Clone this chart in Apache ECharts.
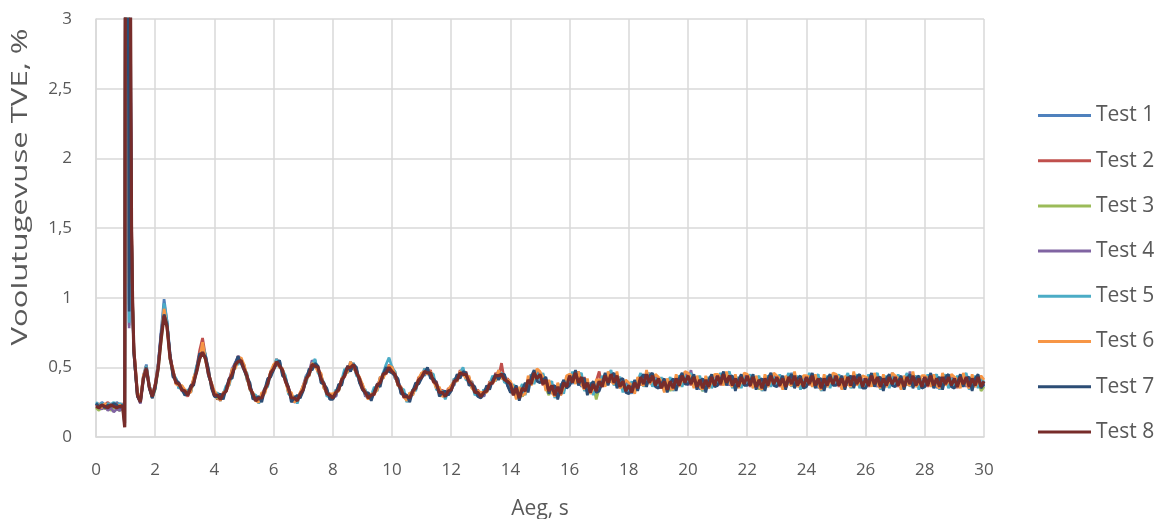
<!DOCTYPE html>
<html>
<head>
<meta charset="utf-8">
<script src="https://cdn.jsdelivr.net/npm/echarts@6/dist/echarts.min.js"></script>
<style>
html,body{margin:0;padding:0;background:#fff;}
#chart{width:1157px;height:519px;}
</style>
</head>
<body>
<div id="chart"></div>
<script>
// ---- data ----
const seriesNames = ['Test 1','Test 2','Test 3','Test 4','Test 5','Test 6','Test 7','Test 8'];
const yTickLabels = ['0','0,5','1','1,5','2','2,5','3'];
const xTickLabels = ['0','2','4','6','8','10','12','14','16','18','20','22','24','26','28','30'];

// sample times: dense around the start-up spike, then every 0.1 s
const timeHead = [0,0.1,0.2,0.3,0.4,0.5,0.6,0.7,0.8,0.9,0.94,0.97,1.0,1.04,1.08,1.12,1.16,1.2,1.24,1.28,1.34,1.4,1.5,1.6,1.7,1.8,1.9];
const bodyStart = 2.0, bodyStep = 0.1, bodyCount = 281;

const test1 = [0.24,0.22,0.25,0.23,0.21,0.24,0.22,0.25,0.23,0.22,0.21,0.08,4.8,4.6,3.8,0.80,3.2,1.45,0.90,0.60,0.44,0.30,0.27,0.44,0.52,0.37,0.30,
0.38,0.52,0.76,0.99,0.83,0.60,0.44,0.42,0.35,0.37,
0.30,0.33,0.32,0.42,0.46,0.60,0.64,0.59,0.44,0.39,
0.29,0.31,0.26,0.32,0.33,0.42,0.44,0.53,0.57,0.53,
0.52,0.41,0.38,0.28,0.29,0.25,0.31,0.32,0.41,0.43,
0.52,0.51,0.55,0.45,0.43,0.32,0.31,0.25,0.29,0.28,
0.37,0.39,0.48,0.49,0.55,0.47,0.45,0.35,0.34,0.27,
0.31,0.29,0.37,0.38,0.47,0.47,0.54,0.49,0.49,0.39,
0.38,0.29,0.31,0.27,0.34,0.34,0.43,0.42,0.49,0.47,
0.51,0.42,0.41,0.32,0.32,0.26,0.31,0.30,0.38,0.38,
0.46,0.44,0.49,0.43,0.43,0.35,0.35,0.29,0.32,0.30,
0.37,0.37,0.44,0.43,0.48,0.42,0.43,0.35,0.35,0.29,
0.32,0.29,0.36,0.35,0.42,0.41,0.48,0.42,0.44,0.37,
0.33,0.37,0.29,0.34,0.36,0.31,0.41,0.44,0.39,0.48,
0.40,0.45,0.35,0.39,0.31,0.36,0.29,0.37,0.40,0.35,
0.45,0.38,0.47,0.44,0.36,0.41,0.33,0.39,0.31,0.40,
0.34,0.43,0.37,0.46,0.40,0.45,0.37,0.43,0.34,0.39,
0.38,0.31,0.40,0.34,0.44,0.37,0.46,0.40,0.37,0.44,
0.35,0.42,0.33,0.40,0.35,0.42,0.36,0.44,0.38,0.46,
0.39,0.45,0.36,0.42,0.34,0.41,0.37,0.43,0.36,0.44,
0.38,0.45,0.40,0.46,0.37,0.43,0.35,0.41,0.37,0.45,
0.38,0.44,0.36,0.42,0.35,0.40,0.36,0.44,0.39,0.45,
0.37,0.44,0.35,0.43,0.38,0.46,0.39,0.43,0.35,0.41,
0.37,0.45,0.39,0.43,0.35,0.40,0.36,0.43,0.37,0.45,
0.38,0.44,0.35,0.41,0.37,0.44,0.38,0.45,0.37,0.42,
0.35,0.44,0.39,0.45,0.36,0.42,0.35,0.43,0.37,0.46,
0.37,0.44,0.35,0.42,0.37,0.45,0.39,0.44,0.35,0.41,
0.37,0.43,0.39,0.44,0.35,0.41,0.37,0.45,0.36,0.43,
0.36,0.42,0.37,0.45,0.37,0.42,0.35,0.43,0.37,0.41,
0.36];

const test2 = [0.22,0.24,0.21,0.23,0.25,0.22,0.21,0.24,0.22,0.24,0.22,0.10,4.6,4.8,4.2,1.2,2.6,1.55,0.98,0.64,0.47,0.31,0.25,0.43,0.51,0.35,0.29,
0.35,0.51,0.73,0.93,0.78,0.59,0.47,0.38,0.39,0.33,
0.33,0.29,0.36,0.41,0.50,0.62,0.71,0.58,0.48,0.36,
0.32,0.27,0.29,0.29,0.36,0.39,0.48,0.50,0.58,0.54,
0.51,0.42,0.37,0.29,0.28,0.26,0.30,0.35,0.38,0.47,
0.49,0.56,0.51,0.49,0.40,0.36,0.27,0.29,0.26,0.32,
0.34,0.43,0.44,0.53,0.50,0.51,0.41,0.39,0.30,0.31,
0.27,0.33,0.34,0.42,0.43,0.51,0.49,0.53,0.45,0.43,
0.34,0.33,0.27,0.31,0.30,0.38,0.39,0.46,0.45,0.52,
0.46,0.47,0.37,0.36,0.28,0.30,0.27,0.34,0.34,0.43,
0.42,0.49,0.45,0.48,0.39,0.40,0.31,0.34,0.28,0.35,
0.33,0.42,0.40,0.48,0.44,0.47,0.39,0.40,0.31,0.34,
0.28,0.34,0.32,0.40,0.38,0.46,0.43,0.53,0.40,0.42,
0.39,0.30,0.36,0.33,0.29,0.38,0.35,0.45,0.40,0.47,
0.46,0.37,0.42,0.33,0.38,0.31,0.35,0.30,0.40,0.36,
0.38,0.46,0.40,0.47,0.37,0.43,0.33,0.38,0.32,0.40,
0.47,0.36,0.44,0.38,0.46,0.39,0.45,0.35,0.41,0.33,
0.36,0.38,0.33,0.42,0.37,0.45,0.39,0.46,0.38,0.43,
0.42,0.35,0.41,0.34,0.39,0.34,0.43,0.37,0.45,0.39,
0.46,0.37,0.44,0.35,0.41,0.36,0.42,0.35,0.44,0.38,
0.45,0.37,0.44,0.38,0.46,0.36,0.43,0.37,0.42,0.39,
0.45,0.36,0.43,0.37,0.42,0.34,0.43,0.36,0.45,0.38,
0.44,0.36,0.42,0.35,0.44,0.37,0.45,0.36,0.43,0.37,
0.44,0.37,0.45,0.36,0.43,0.35,0.43,0.36,0.44,0.37,
0.45,0.36,0.43,0.35,0.44,0.36,0.45,0.37,0.44,0.35,
0.43,0.36,0.45,0.37,0.44,0.35,0.43,0.36,0.44,0.37,
0.44,0.36,0.43,0.35,0.44,0.37,0.45,0.36,0.43,0.35,
0.44,0.36,0.45,0.36,0.43,0.35,0.44,0.37,0.44,0.36,
0.43,0.35,0.44,0.37,0.44,0.35,0.43,0.36,0.44,0.37,
0.38];

const test3 = [0.21,0.19,0.22,0.20,0.22,0.19,0.21,0.20,0.19,0.21,0.20,0.10,4.4,4.7,3.9,0.95,2.2,1.4,0.92,0.61,0.45,0.29,0.26,0.41,0.49,0.36,0.28,
0.34,0.48,0.69,0.88,0.81,0.56,0.45,0.41,0.36,0.36,
0.31,0.32,0.33,0.39,0.49,0.57,0.62,0.55,0.47,0.36,
0.30,0.28,0.27,0.29,0.35,0.39,0.47,0.50,0.54,0.56,
0.49,0.42,0.35,0.29,0.26,0.26,0.28,0.32,0.40,0.44,
0.51,0.52,0.53,0.46,0.42,0.33,0.28,0.26,0.28,0.29,
0.36,0.40,0.47,0.50,0.53,0.48,0.44,0.36,0.33,0.28,
0.30,0.30,0.36,0.39,0.46,0.48,0.52,0.50,0.48,0.40,
0.37,0.30,0.30,0.28,0.33,0.35,0.41,0.43,0.48,0.48,
0.49,0.43,0.40,0.33,0.31,0.27,0.30,0.31,0.37,0.39,
0.45,0.45,0.48,0.44,0.42,0.36,0.34,0.30,0.31,0.31,
0.36,0.38,0.43,0.44,0.47,0.43,0.42,0.36,0.34,0.30,
0.31,0.30,0.35,0.36,0.41,0.42,0.46,0.43,0.43,0.38,
0.34,0.36,0.30,0.35,0.29,0.37,0.36,0.43,0.39,0.47,
0.41,0.44,0.35,0.30,0.37,0.30,0.36,0.31,0.38,0.41,
0.43,0.39,0.46,0.40,0.43,0.36,0.38,0.31,0.37,0.27,
0.35,0.41,0.38,0.45,0.40,0.44,0.39,0.42,0.35,0.38,
0.33,0.37,0.34,0.41,0.38,0.43,0.40,0.45,0.39,0.43,
0.36,0.40,0.35,0.39,0.33,0.40,0.37,0.42,0.39,0.44,
0.40,0.43,0.37,0.41,0.36,0.33,0.40,0.38,0.42,0.37,
0.43,0.39,0.44,0.41,0.38,0.42,0.37,0.41,0.36,0.43,
0.38,0.42,0.37,0.40,0.34,0.40,0.37,0.42,0.38,0.43,
0.41,0.37,0.42,0.36,0.42,0.39,0.43,0.37,0.41,0.35,
0.42,0.38,0.43,0.36,0.41,0.34,0.40,0.37,0.43,0.39,
0.44,0.37,0.41,0.35,0.42,0.38,0.44,0.39,0.42,0.36,
0.40,0.37,0.43,0.39,0.42,0.35,0.41,0.38,0.42,0.39,
0.42,0.37,0.41,0.35,0.42,0.39,0.44,0.37,0.41,0.36,
0.42,0.38,0.43,0.37,0.40,0.36,0.42,0.39,0.42,0.37,
0.41,0.36,0.42,0.39,0.42,0.36,0.40,0.38,0.42,0.33,
0.36];

const test4 = [0.23,0.21,0.20,0.22,0.19,0.21,0.18,0.20,0.19,0.21,0.19,0.09,4.7,4.4,1.8,0.78,2.9,1.5,0.93,0.63,0.46,0.30,0.24,0.42,0.50,0.36,0.28,
0.37,0.53,0.74,0.91,0.82,0.57,0.48,0.39,0.38,0.34,
0.32,0.30,0.35,0.41,0.47,0.59,0.64,0.58,0.45,0.38,
0.30,0.30,0.27,0.31,0.33,0.41,0.49,0.53,0.58,0.56,
0.50,0.44,0.36,0.31,0.26,0.27,0.27,0.34,0.38,0.46,
0.50,0.54,0.51,0.48,0.40,0.35,0.28,0.25,0.26,0.31,
0.37,0.44,0.47,0.55,0.53,0.48,0.45,0.36,0.33,0.28,
0.30,0.29,0.37,0.39,0.47,0.48,0.52,0.49,0.48,0.40,
0.37,0.30,0.28,0.27,0.33,0.35,0.42,0.43,0.48,0.48,
0.49,0.43,0.41,0.33,0.31,0.26,0.30,0.31,0.37,0.39,
0.45,0.45,0.49,0.44,0.42,0.36,0.35,0.30,0.31,0.31,
0.36,0.38,0.44,0.44,0.47,0.43,0.42,0.36,0.34,0.30,
0.32,0.29,0.36,0.36,0.42,0.42,0.47,0.43,0.44,0.38,
0.33,0.37,0.29,0.35,0.30,0.38,0.35,0.44,0.40,0.47,
0.40,0.44,0.35,0.40,0.31,0.36,0.30,0.38,0.33,0.42,
0.38,0.45,0.40,0.45,0.37,0.41,0.33,0.38,0.32,0.39,
0.34,0.42,0.38,0.45,0.39,0.45,0.38,0.42,0.34,0.39,
0.32,0.38,0.33,0.41,0.37,0.44,0.39,0.45,0.38,0.43,
0.36,0.41,0.34,0.40,0.34,0.41,0.36,0.43,0.38,0.45,
0.37,0.48,0.36,0.42,0.35,0.41,0.36,0.42,0.37,0.44,
0.38,0.44,0.39,0.45,0.37,0.43,0.36,0.42,0.38,0.44,
0.37,0.43,0.36,0.42,0.35,0.41,0.37,0.43,0.38,0.44,
0.37,0.43,0.36,0.42,0.38,0.44,0.37,0.42,0.36,0.42,
0.38,0.44,0.37,0.43,0.36,0.41,0.37,0.43,0.38,0.43,
0.37,0.43,0.36,0.42,0.37,0.43,0.38,0.44,0.36,0.42,
0.37,0.42,0.38,0.44,0.36,0.42,0.37,0.42,0.38,0.43,
0.37,0.42,0.36,0.43,0.38,0.47,0.37,0.43,0.36,0.42,
0.37,0.43,0.37,0.44,0.36,0.42,0.38,0.43,0.37,0.43,
0.36,0.42,0.38,0.43,0.36,0.42,0.37,0.42,0.36,0.41,
0.38];

const test5 = [0.25,0.23,0.24,0.22,0.24,0.23,0.25,0.22,0.24,0.23,0.21,0.08,4.5,4.6,3.7,0.82,2.4,1.48,0.96,0.62,0.45,0.31,0.26,0.43,0.51,0.37,0.30,
0.35,0.52,0.71,0.96,0.83,0.56,0.46,0.42,0.35,0.36,
0.31,0.34,0.32,0.41,0.51,0.55,0.66,0.59,0.44,0.38,
0.30,0.32,0.26,0.31,0.37,0.37,0.46,0.53,0.52,0.56,
0.49,0.46,0.34,0.31,0.30,0.24,0.29,0.35,0.36,0.46,
0.49,0.56,0.50,0.48,0.44,0.31,0.29,0.29,0.24,0.31,
0.34,0.44,0.44,0.52,0.56,0.46,0.43,0.39,0.29,0.30,
0.28,0.34,0.33,0.41,0.49,0.46,0.51,0.53,0.44,0.42,
0.35,0.34,0.27,0.30,0.36,0.33,0.40,0.46,0.52,0.57,
0.50,0.47,0.37,0.35,0.34,0.25,0.29,0.34,0.33,0.41,
0.43,0.49,0.45,0.46,0.45,0.34,0.33,0.33,0.27,0.33,
0.34,0.42,0.40,0.46,0.50,0.41,0.41,0.39,0.30,0.32,
0.29,0.34,0.32,0.38,0.44,0.40,0.45,0.46,0.39,0.40,
0.34,0.38,0.28,0.33,0.38,0.30,0.38,0.45,0.38,0.46,
0.41,0.46,0.34,0.38,0.40,0.28,0.33,0.38,0.31,0.41,
0.39,0.47,0.39,0.44,0.46,0.33,0.36,0.39,0.30,0.38,
0.35,0.44,0.37,0.44,0.48,0.37,0.41,0.43,0.32,0.38,
0.33,0.40,0.32,0.40,0.46,0.36,0.42,0.46,0.36,0.42,
0.37,0.43,0.33,0.39,0.43,0.33,0.39,0.44,0.36,0.44,
0.40,0.46,0.36,0.41,0.44,0.33,0.38,0.43,0.35,0.42,
0.39,0.46,0.38,0.44,0.47,0.35,0.39,0.43,0.35,0.43,
0.39,0.45,0.36,0.41,0.44,0.33,0.39,0.44,0.36,0.43,
0.38,0.45,0.35,0.41,0.46,0.36,0.41,0.44,0.34,0.41,
0.38,0.46,0.37,0.42,0.45,0.33,0.39,0.44,0.35,0.43,
0.39,0.45,0.35,0.41,0.46,0.35,0.41,0.45,0.35,0.41,
0.37,0.45,0.37,0.43,0.46,0.34,0.39,0.44,0.35,0.43,
0.38,0.45,0.35,0.41,0.46,0.36,0.41,0.44,0.34,0.41,
0.38,0.45,0.37,0.42,0.45,0.34,0.40,0.45,0.35,0.42,
0.37,0.44,0.36,0.43,0.46,0.34,0.39,0.44,0.35,0.43,
0.39];

const test6 = [0.22,0.23,0.21,0.24,0.22,0.23,0.22,0.21,0.23,0.22,0.20,0.09,4.6,4.5,4.0,1.1,2.1,1.52,0.94,0.63,0.48,0.32,0.27,0.44,0.50,0.37,0.29,
0.38,0.51,0.70,0.92,0.79,0.56,0.49,0.38,0.37,0.37,
0.34,0.32,0.32,0.43,0.47,0.56,0.68,0.55,0.46,0.39,
0.33,0.30,0.26,0.32,0.33,0.38,0.49,0.49,0.55,0.57,
0.52,0.44,0.34,0.32,0.26,0.25,0.32,0.31,0.39,0.47,
0.52,0.54,0.50,0.49,0.40,0.32,0.32,0.25,0.27,0.32,
0.37,0.42,0.44,0.53,0.51,0.47,0.46,0.35,0.32,0.31,
0.31,0.32,0.33,0.42,0.44,0.47,0.54,0.49,0.47,0.43,
0.38,0.32,0.27,0.31,0.31,0.34,0.43,0.42,0.47,0.51,
0.50,0.45,0.37,0.36,0.29,0.26,0.32,0.30,0.36,0.42,
0.46,0.47,0.45,0.47,0.40,0.35,0.36,0.29,0.30,0.34,
0.37,0.40,0.40,0.47,0.45,0.42,0.44,0.35,0.33,0.33,
0.32,0.32,0.32,0.39,0.39,0.41,0.48,0.42,0.42,0.41,
0.40,0.35,0.27,0.36,0.30,0.31,0.44,0.37,0.43,0.49,
0.47,0.43,0.33,0.41,0.32,0.29,0.39,0.30,0.36,0.44,
0.45,0.44,0.38,0.47,0.38,0.34,0.42,0.31,0.35,0.41,
0.41,0.41,0.36,0.47,0.40,0.38,0.47,0.35,0.37,0.41,
0.39,0.37,0.31,0.43,0.38,0.37,0.48,0.38,0.41,0.45,
0.43,0.40,0.32,0.42,0.35,0.34,0.45,0.36,0.41,0.47,
0.46,0.43,0.35,0.44,0.36,0.34,0.44,0.35,0.40,0.45,
0.45,0.43,0.37,0.47,0.39,0.36,0.45,0.35,0.40,0.46,
0.45,0.42,0.35,0.44,0.36,0.34,0.45,0.36,0.41,0.46,
0.44,0.42,0.34,0.44,0.38,0.37,0.47,0.36,0.39,0.44,
0.44,0.43,0.36,0.45,0.37,0.34,0.45,0.36,0.40,0.46,
0.45,0.42,0.34,0.44,0.38,0.36,0.47,0.37,0.40,0.44,
0.43,0.42,0.36,0.46,0.38,0.35,0.45,0.36,0.40,0.46,
0.44,0.42,0.34,0.44,0.38,0.37,0.47,0.36,0.39,0.44,
0.44,0.42,0.36,0.45,0.37,0.35,0.46,0.37,0.40,0.45,
0.43,0.41,0.35,0.46,0.38,0.35,0.45,0.36,0.40,0.44,
0.41];

const test7 = [0.24,0.22,0.23,0.21,0.23,0.22,0.24,0.23,0.21,0.23,0.21,0.10,4.7,4.7,3.5,0.9,2.8,1.46,0.91,0.60,0.44,0.29,0.25,0.41,0.50,0.35,0.28,
0.35,0.50,0.74,0.88,0.81,0.60,0.43,0.41,0.39,0.34,
0.30,0.31,0.37,0.37,0.49,0.60,0.59,0.58,0.49,0.35,
0.29,0.29,0.31,0.27,0.35,0.42,0.42,0.52,0.58,0.53,
0.48,0.43,0.39,0.27,0.28,0.29,0.25,0.34,0.42,0.43,
0.48,0.53,0.55,0.44,0.42,0.36,0.25,0.28,0.30,0.28,
0.33,0.41,0.49,0.48,0.53,0.51,0.39,0.38,0.35,0.27,
0.27,0.31,0.38,0.37,0.46,0.51,0.47,0.52,0.50,0.39,
0.34,0.31,0.32,0.26,0.33,0.38,0.36,0.45,0.50,0.47,
0.46,0.44,0.42,0.31,0.31,0.30,0.25,0.33,0.39,0.38,
0.42,0.46,0.50,0.42,0.42,0.39,0.29,0.32,0.33,0.30,
0.33,0.39,0.45,0.42,0.47,0.46,0.37,0.38,0.36,0.29,
0.28,0.31,0.37,0.34,0.41,0.45,0.41,0.45,0.45,0.37,
0.32,0.33,0.37,0.26,0.34,0.39,0.32,0.43,0.48,0.40,
0.39,0.41,0.43,0.31,0.36,0.37,0.27,0.36,0.41,0.35,
0.37,0.42,0.48,0.37,0.42,0.42,0.30,0.37,0.40,0.32,
0.33,0.39,0.46,0.37,0.44,0.46,0.35,0.41,0.42,0.32,
0.31,0.35,0.41,0.33,0.42,0.45,0.36,0.44,0.46,0.36,
0.35,0.38,0.42,0.32,0.39,0.42,0.33,0.42,0.46,0.38,
0.38,0.41,0.45,0.34,0.40,0.42,0.32,0.41,0.45,0.36,
0.37,0.41,0.47,0.37,0.43,0.44,0.33,0.41,0.45,0.37,
0.37,0.40,0.45,0.34,0.40,0.42,0.33,0.42,0.46,0.37,
0.36,0.40,0.44,0.34,0.42,0.45,0.35,0.42,0.44,0.35,
0.36,0.41,0.46,0.35,0.41,0.42,0.33,0.42,0.45,0.37,
0.37,0.40,0.44,0.34,0.42,0.44,0.35,0.43,0.45,0.35,
0.35,0.40,0.46,0.36,0.42,0.43,0.33,0.42,0.45,0.37,
0.36,0.40,0.44,0.34,0.42,0.45,0.35,0.42,0.44,0.35,
0.36,0.40,0.46,0.35,0.41,0.43,0.34,0.43,0.45,0.36,
0.35,0.39,0.45,0.36,0.42,0.43,0.33,0.42,0.45,0.35,
0.38];

const test8 = [0.22,0.21,0.23,0.22,0.21,0.23,0.22,0.21,0.22,0.22,0.21,0.07,4.6,4.6,4.0,3.6,3.4,1.52,0.92,0.62,0.46,0.30,0.25,0.42,0.49,0.36,0.29,
0.37,0.49,0.70,0.87,0.79,0.57,0.47,0.39,0.38,0.34,
0.33,0.30,0.35,0.39,0.47,0.56,0.61,0.56,0.45,0.38,
0.30,0.30,0.27,0.31,0.33,0.41,0.45,0.52,0.54,0.55,
0.49,0.44,0.35,0.31,0.26,0.28,0.28,0.34,0.38,0.46,
0.49,0.54,0.51,0.48,0.40,0.35,0.28,0.28,0.26,0.31,
0.34,0.42,0.45,0.52,0.51,0.50,0.42,0.38,0.31,0.30,
0.28,0.32,0.34,0.41,0.44,0.50,0.50,0.52,0.46,0.42,
0.35,0.32,0.28,0.30,0.31,0.37,0.39,0.45,0.46,0.50,
0.47,0.45,0.38,0.35,0.29,0.29,0.28,0.33,0.35,0.41,
0.43,0.47,0.46,0.46,0.40,0.38,0.32,0.32,0.29,0.33,
0.34,0.40,0.41,0.46,0.45,0.45,0.40,0.38,0.32,0.32,
0.29,0.32,0.33,0.38,0.39,0.44,0.44,0.45,0.41,0.40,
0.38,0.30,0.35,0.28,0.35,0.33,0.41,0.38,0.46,0.42,
0.45,0.38,0.41,0.33,0.37,0.30,0.36,0.31,0.39,0.36,
0.44,0.39,0.46,0.39,0.43,0.35,0.39,0.32,0.38,0.33,
0.40,0.36,0.44,0.39,0.45,0.39,0.44,0.36,0.40,0.33,
0.37,0.32,0.39,0.35,0.43,0.38,0.45,0.39,0.44,0.37,
0.42,0.35,0.40,0.34,0.40,0.35,0.42,0.37,0.44,0.39,
0.44,0.38,0.43,0.36,0.41,0.35,0.41,0.36,0.43,0.37,
0.44,0.38,0.45,0.39,0.44,0.37,0.42,0.36,0.43,0.38,
0.44,0.37,0.43,0.36,0.41,0.35,0.42,0.37,0.44,0.38,
0.43,0.37,0.42,0.36,0.43,0.38,0.44,0.37,0.42,0.36,
0.43,0.38,0.44,0.37,0.42,0.35,0.42,0.37,0.43,0.38,
0.44,0.37,0.42,0.36,0.43,0.37,0.44,0.38,0.43,0.36,
0.42,0.37,0.44,0.38,0.43,0.36,0.42,0.37,0.43,0.38,
0.43,0.37,0.42,0.36,0.43,0.38,0.44,0.37,0.42,0.36,
0.43,0.37,0.44,0.37,0.42,0.36,0.43,0.38,0.43,0.37,
0.42,0.36,0.43,0.38,0.43,0.36,0.42,0.37,0.43,0.36,
0.40];

const seriesValues = [test1,test2,test3,test4,test5,test6,test7,test8];
const seriesColors = ['#4F81BD','#C0504D','#9BBB59','#8064A2','#4BACC6','#F79646','#2C4D75','#772C2A'];

// ---- build ----
const times = timeHead.concat(Array.from({length: bodyCount}, (_, i) => +(bodyStart + i * bodyStep).toFixed(1)));
const FONT = "'Open Sans', 'Liberation Sans', sans-serif";
const TXT = '#595959';
const GRIDC = '#d9d9d9';

const chart = echarts.init(document.getElementById('chart'), null, {renderer: 'canvas'});
chart.setOption({
  animation: false,
  backgroundColor: '#fff',
  color: seriesColors,
  grid: {left: 96, right: 173, top: 19, bottom: 82, containLabel: false, outerBoundsMode: 'none'},
  legend: {
    orient: 'vertical',
    left: 1033, top: 100,
    icon: 'rect',
    itemWidth: 53, itemHeight: 3, itemGap: 24.2,
    data: seriesNames,
    textStyle: {fontFamily: FONT, fontSize: 21, color: TXT, lineHeight: 20}
  },
  xAxis: {
    type: 'value', min: 0, max: 30, interval: 2,
    axisLine: {show: true, lineStyle: {color: GRIDC, width: 1.5}},
    axisTick: {show: false},
    splitLine: {show: true, lineStyle: {color: GRIDC, width: 1.5}},
    axisLabel: {
      margin: 25, color: TXT, fontFamily: FONT, fontSize: 17,
      formatter: (v) => xTickLabels[Math.round(v / 2)]
    },
    name: 'Aeg, s', nameLocation: 'middle', nameGap: 62,
    nameTextStyle: {fontFamily: FONT, fontSize: 21, color: TXT}
  },
  yAxis: {
    type: 'value', min: 0, max: 3, interval: 0.5,
    axisLine: {show: true, lineStyle: {color: GRIDC, width: 1.5}},
    axisTick: {show: false},
    splitLine: {show: true, lineStyle: {color: GRIDC, width: 1.5}},
    axisLabel: {
      margin: 24, color: TXT, fontFamily: FONT, fontSize: 17,
      padding: [6, 0, 0, 0],
      formatter: (v) => yTickLabels[Math.round(v / 0.5)]
    }
  },
  graphic: [{
    type: 'text',
    x: 21, y: 187,
    rotation: Math.PI / 2,
    scaleX: 1.48,
    style: {
      text: 'Voolutugevuse TVE, %',
      fill: TXT,
      font: "21px 'Open Sans', sans-serif",
      align: 'center',
      verticalAlign: 'middle'
    }
  }],
  series: seriesNames.map((name, k) => ({
    name: name,
    type: 'line',
    data: seriesValues[k].map((v, i) => [times[i], v]),
    symbol: 'none',
    showSymbol: false,
    clip: true,
    lineStyle: {width: k === 7 ? 3.2 : 2.7, color: seriesColors[k]},
    itemStyle: {color: seriesColors[k]},
    emphasis: {disabled: true}
  }))
});
</script>
</body>
</html>
